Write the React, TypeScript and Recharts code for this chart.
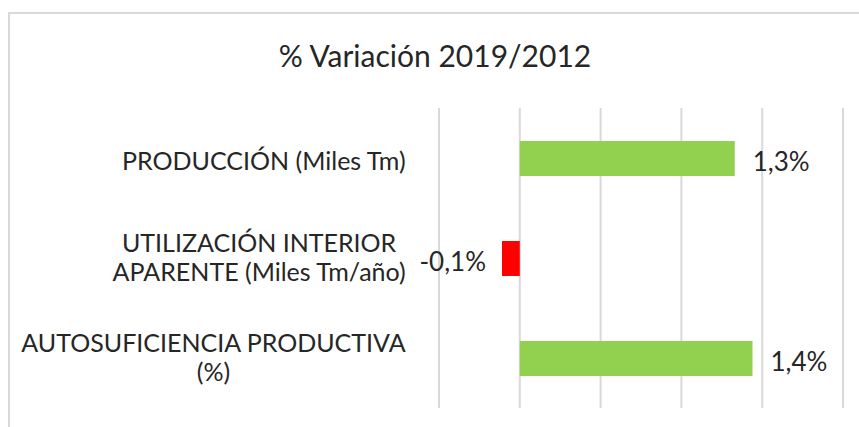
import React from 'react';
import { BarChart, Bar, XAxis, YAxis, CartesianGrid, Cell, LabelList } from 'recharts';

const categories = [
  'PRODUCCIÓN (Miles Tm)',
  'UTILIZACIÓN INTERIOR\nAPARENTE (Miles Tm/año)',
  'AUTOSUFICIENCIA PRODUCTIVA\n(%)',
];
const variation = [1.33, -0.11, 1.44];
const xTicks = [-0.5, 0, 0.5, 1, 1.5, 2];
const title = '% Variación 2019/2012';

const FONT = 'Lato, "Open Sans", sans-serif';
const LABEL_SIZE = 25;

const data = categories.map((name, i) => ({ name, value: variation[i] }));

let ctx: CanvasRenderingContext2D | null = null;
function measure(text: string, size: number) {
  if (!ctx) ctx = document.createElement('canvas').getContext('2d');
  if (!ctx) return text.length * size * 0.5;
  ctx.font = `${size}px ${FONT}`;
  return ctx.measureText(text).width;
}

const fmt = (v: number) => `${v.toFixed(1).replace('.', ',')}%`;

function CategoryTick(props: any) {
  const { x, y, payload } = props;
  const lines = String(payload.value).split('\n');
  const maxW = Math.max(...lines.map((l) => measure(l, LABEL_SIZE)));
  const cx = x - 31 - maxW / 2;
  const lh = 29;
  const y0 = y - ((lines.length - 1) * lh) / 2 - (lines.length > 1 ? 2 : -2);
  return (
    <g>
      {lines.map((l, i) => (
        <text
          key={i}
          x={cx}
          y={y0 + i * lh}
          textAnchor="middle"
          dominantBaseline="central"
          fontSize={LABEL_SIZE}
          fontFamily={FONT}
          fill="#262626"
        >
          {l}
        </text>
      ))}
    </g>
  );
}

function ValueLabel(props: any) {
  const { x, y, width, height, value } = props;
  const neg = value < 0;
  const tx = neg ? x + width - 16 : x + width + 18;
  return (
    <text
      x={tx}
      y={y + height / 2 + 2}
      textAnchor={neg ? 'end' : 'start'}
      dominantBaseline="central"
      fontSize={LABEL_SIZE + 1}
      fontFamily={FONT}
      fill="#262626"
    >
      {fmt(value)}
    </text>
  );
}

export default function App() {
  return (
    <div
      style={{
        position: 'absolute',
        left: 0,
        top: 0,
        width: 859,
        height: 427,
        overflow: 'hidden',
        background: '#fff',
      }}
    >
      <div
        style={{
          position: 'absolute',
          left: 8,
          top: 12,
          width: 900,
          height: 500,
          border: '2px solid #d9d9d9',
        }}
      />
      <div style={{ position: 'absolute', left: 0, top: 0 }}>
        <BarChart
          width={859}
          height={427}
          data={data}
          layout="vertical"
          margin={{ top: 108, right: 16, bottom: 19, left: 8 }}
        >
          <text
            x={435}
            y={55}
            textAnchor="middle"
            dominantBaseline="central"
            fontSize={30}
            fontFamily={FONT}
            fill="#262626"
          >
            {title}
          </text>
          <CartesianGrid horizontal={false} stroke="#d9d9d9" strokeWidth={2} />
          <XAxis
            type="number"
            domain={[-0.5, 2]}
            ticks={xTicks}
            tick={() => <g />}
            axisLine={false}
            tickLine={false}
            height={0}
          />
          <YAxis
            type="category"
            dataKey="name"
            width={431}
            axisLine={false}
            tickLine={false}
            tickSize={0}
            tick={<CategoryTick />}
          />
          <Bar dataKey="value" barSize={35} isAnimationActive={false}>
            {data.map((d, i) => (
              <Cell key={i} fill={d.value < 0 ? '#ff0000' : '#92d050'} />
            ))}
            <LabelList dataKey="value" content={<ValueLabel />} />
          </Bar>
        </BarChart>
      </div>
    </div>
  );
}
